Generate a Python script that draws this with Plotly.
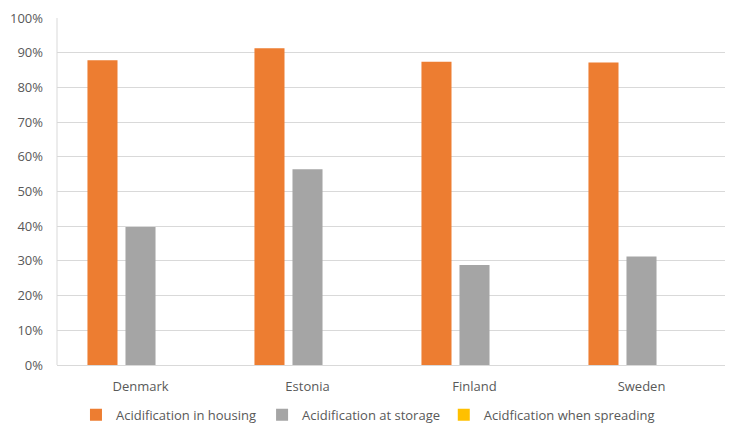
import plotly.graph_objects as go

countries = ["Denmark", "Estonia", "Finland", "Sweden"]
housing = [0.878, 0.913, 0.874, 0.872]
storage = [0.398, 0.564, 0.288, 0.313]
spreading = [0, 0, 0, 0]

series_names = ["Acidification in housing", "Acidification at storage", "Acidfication when spreading"]
colors = ["#ED7D31", "#A5A5A5", "#FFC000"]
legend_ids = ["legend", "legend2", "legend3"]
legend_x = [0.0284, 0.307, 0.579]

fig = go.Figure()
for name, vals, col, lid in zip(series_names, [housing, storage, spreading], colors, legend_ids):
    fig.add_trace(go.Bar(x=countries, y=vals, name=name, marker_color=col,
                         marker_line_width=0, legend=lid))

font = "Open Sans, Segoe UI, sans-serif"
legend_common = dict(orientation="h", xanchor="left", yref="container", y=0.055,
                     yanchor="top", font=dict(size=13, color="#595959"),
                     bgcolor="rgba(0,0,0,0)")
fig.update_layout(
    width=731, height=423,
    margin=dict(l=57, r=6, t=18, b=58, autoexpand=False),
    plot_bgcolor="white", paper_bgcolor="white",
    barmode="group", bargap=0.317, bargroupgap=0.21,
    font=dict(family=font, size=13, color="#595959"),
    showlegend=True,
    legend=dict(x=legend_x[0], **legend_common),
    legend2=dict(x=legend_x[1], **legend_common),
    legend3=dict(x=legend_x[2], **legend_common),
    yaxis=dict(range=[0, 1], dtick=0.1, tickformat=".0%", showgrid=True,
               gridcolor="#D9D9D9", gridwidth=1, zeroline=False, ticks="",
               ticklabelstandoff=13, tickfont=dict(size=13, color="#595959")),
    xaxis=dict(showline=True, linecolor="#D9D9D9", linewidth=1, ticks="",
               tickfont=dict(size=13, color="#595959"), ticklabelstandoff=9),
)
fig.add_shape(type="line", xref="paper", yref="paper", x0=0, x1=0, y0=0, y1=1,
              line=dict(color="#D9D9D9", width=1))

fig.write_html("out.html")
